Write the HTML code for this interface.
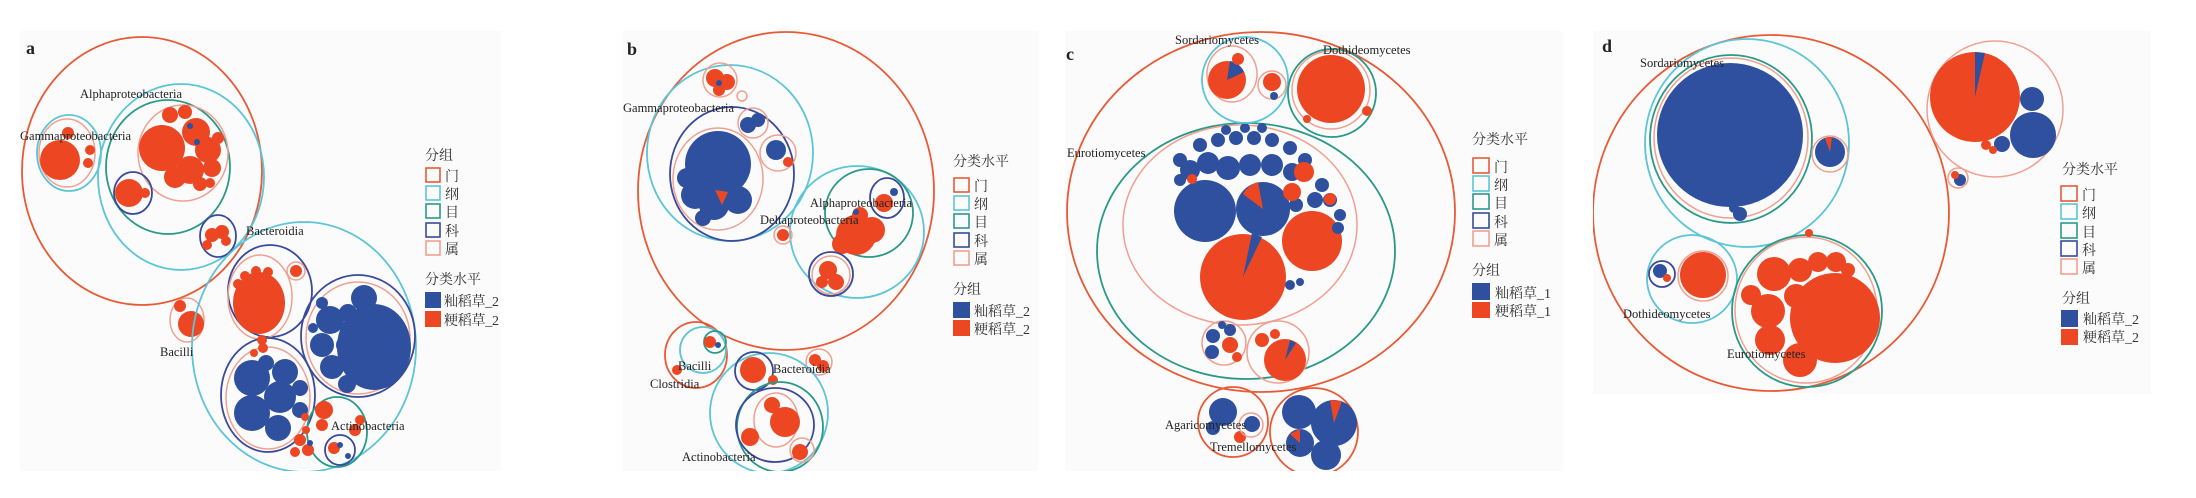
<!DOCTYPE html>
<html><head><meta charset="utf-8"><style>
html,body{margin:0;padding:0;background:#fff;}
svg{display:block;}
.l{font-family:"Liberation Serif","Noto Serif CJK SC",serif;font-size:12.5px;fill:#222;}
.t{font-family:"Liberation Serif",serif;font-size:18px;font-weight:bold;fill:#222;}
.g{font-family:"Liberation Serif","Noto Serif CJK SC","Noto Sans CJK SC",serif;font-size:14px;fill:#333;}
.R{fill:none;stroke:#e85a36;stroke-width:1.8}
.C{fill:none;stroke:#5cc5d8;stroke-width:1.8}
.G{fill:none;stroke:#2a9a88;stroke-width:1.8}
.N{fill:none;stroke:#3a4a9a;stroke-width:1.8}
.S{fill:none;stroke:#f0a090;stroke-width:1.5}
.b{fill:#2f509f}.r{fill:#ec4722}
</style></head><body>
<svg width="2196" height="498" viewBox="0 0 2196 498" xmlns="http://www.w3.org/2000/svg">
<defs>
<clipPath id="ca"><rect x="20" y="30" width="481" height="441"/></clipPath>
<clipPath id="cb"><rect x="623" y="30" width="415" height="441"/></clipPath>
<clipPath id="cc"><rect x="1065" y="30" width="498" height="441"/></clipPath>
<clipPath id="cd"><rect x="1593" y="30" width="558" height="364"/></clipPath>
</defs>
<rect x="20" y="31" width="481" height="440" fill="#fbfbfb"/>
<rect x="623" y="31" width="415" height="440" fill="#fbfbfb"/>
<rect x="1065" y="31" width="498" height="440" fill="#fbfbfb"/>
<rect x="1593" y="31" width="558" height="363" fill="#fbfbfb"/>

<!-- PANEL A -->
<g clip-path="url(#ca)">
<text class="t" x="26" y="54">a</text>
<ellipse class="R" cx="142" cy="171" rx="120" ry="134"/>
<ellipse class="C" cx="181" cy="177" rx="83" ry="93"/>
<ellipse class="G" cx="168" cy="167" rx="62" ry="67"/>
<ellipse class="S" cx="183" cy="153" rx="45" ry="48"/>
<circle class="r" cx="162" cy="148" r="23"/>
<circle class="r" cx="196" cy="132" r="14"/><circle class="r" cx="208" cy="150" r="13"/>
<circle class="r" cx="190" cy="170" r="14"/><circle class="r" cx="175" cy="177" r="11"/>
<circle class="r" cx="212" cy="168" r="9"/><circle class="r" cx="185" cy="112" r="7"/>
<circle class="r" cx="170" cy="115" r="8"/><circle class="r" cx="218" cy="138" r="6"/>
<circle class="r" cx="200" cy="184" r="7"/><circle class="r" cx="210" cy="183" r="5"/>
<circle class="b" cx="190" cy="126" r="3"/><circle class="b" cx="197" cy="142" r="3"/>
<ellipse class="N" cx="133" cy="193" rx="19" ry="21"/>
<circle class="r" cx="129" cy="193" r="14"/><circle class="r" cx="145" cy="193" r="5"/>
<ellipse class="C" cx="69" cy="153" rx="32" ry="38"/>
<ellipse class="S" cx="67" cy="153" rx="28" ry="34"/>
<circle class="r" cx="60" cy="160" r="20"/><circle class="r" cx="90" cy="150" r="5"/><circle class="r" cx="88" cy="163" r="5"/><circle class="r" cx="68" cy="133" r="6"/>
<ellipse class="N" cx="218" cy="236" rx="18" ry="21"/>
<circle class="r" cx="212" cy="235" r="7"/><circle class="r" cx="222" cy="232" r="7"/><circle class="r" cx="226" cy="241" r="5"/><circle class="r" cx="207" cy="245" r="5"/>
<ellipse class="S" cx="187" cy="320" rx="17" ry="22"/>
<circle class="r" cx="191" cy="324" r="13"/><circle class="r" cx="180" cy="306" r="6"/>
<ellipse class="C" cx="304" cy="347" rx="112" ry="125"/>
<ellipse class="N" cx="270" cy="291" rx="42" ry="46"/>
<ellipse class="S" cx="260" cy="297" rx="32" ry="42"/>
<ellipse class="r" cx="259" cy="303" rx="26" ry="31"/>
<circle class="r" cx="245" cy="276" r="5"/><circle class="r" cx="256" cy="271" r="5"/><circle class="r" cx="268" cy="272" r="5"/><circle class="r" cx="238" cy="284" r="5"/>
<circle class="S" cx="296" cy="271" r="9"/><circle class="r" cx="296" cy="271" r="6"/>
<ellipse class="N" cx="358" cy="336" rx="57" ry="61"/>
<ellipse class="S" cx="358" cy="338" rx="52" ry="56"/>
<ellipse class="b" cx="374" cy="347" rx="37" ry="43"/>
<circle class="b" cx="364" cy="298" r="13"/><circle class="b" cx="330" cy="320" r="14"/><circle class="b" cx="322" cy="345" r="12"/>
<circle class="b" cx="332" cy="367" r="12"/><circle class="b" cx="347" cy="384" r="9"/><circle class="b" cx="345" cy="345" r="9"/><circle class="b" cx="348" cy="313" r="9"/>
<circle class="b" cx="322" cy="303" r="6"/><circle class="b" cx="313" cy="328" r="5"/>
<ellipse class="N" cx="268" cy="395" rx="47" ry="57"/>
<ellipse class="S" cx="268" cy="398" rx="42" ry="51"/>
<circle class="b" cx="252" cy="378" r="18"/><circle class="b" cx="252" cy="413" r="18"/><circle class="b" cx="280" cy="397" r="16"/>
<circle class="b" cx="285" cy="372" r="13"/><circle class="b" cx="278" cy="428" r="13"/><circle class="b" cx="300" cy="388" r="8"/><circle class="b" cx="300" cy="410" r="8"/><circle class="b" cx="266" cy="363" r="8"/>
<circle class="r" cx="263" cy="348" r="5"/><circle class="r" cx="254" cy="353" r="4"/><circle class="r" cx="305" cy="417" r="4"/>
<circle class="r" cx="262" cy="340" r="5"/>
<ellipse class="G" cx="337" cy="432" rx="30" ry="35"/>
<circle class="r" cx="324" cy="410" r="9"/><circle class="r" cx="322" cy="425" r="6"/><circle class="r" cx="355" cy="430" r="6"/><circle class="r" cx="360" cy="420" r="5"/>
<circle class="N" cx="340" cy="450" r="15"/><circle class="r" cx="334" cy="448" r="6"/><circle class="b" cx="340" cy="445" r="3"/><circle class="b" cx="348" cy="456" r="3"/>
<circle class="r" cx="300" cy="440" r="6"/><circle class="r" cx="308" cy="450" r="6"/><circle class="r" cx="295" cy="452" r="5"/><circle class="r" cx="306" cy="430" r="4"/><circle class="b" cx="310" cy="443" r="3"/>
<text class="l" x="80" y="98">Alphaproteobacteria</text>
<text class="l" x="20" y="140">Gammaproteobacteria</text>
<text class="l" x="246" y="235">Bacteroidia</text>
<text class="l" x="160" y="356">Bacilli</text>
<text class="l" x="331" y="430">Actinobacteria</text>
<text class="g" x="425" y="160">分组</text>
<rect x="426" y="168" width="14" height="14" fill="none" stroke="#e85a36" stroke-width="1.6"/>
<rect x="426" y="186" width="14" height="14" fill="none" stroke="#5cc5d8" stroke-width="1.6"/>
<rect x="426" y="204" width="14" height="14" fill="none" stroke="#2a9a88" stroke-width="1.6"/>
<rect x="426" y="223" width="14" height="14" fill="none" stroke="#3a4a9a" stroke-width="1.6"/>
<rect x="426" y="241" width="14" height="14" fill="none" stroke="#f0a090" stroke-width="1.6"/>
<text class="g" x="445" y="181">门</text><text class="g" x="445" y="199">纲</text><text class="g" x="445" y="217">目</text><text class="g" x="445" y="236">科</text><text class="g" x="445" y="254">属</text>
<text class="g" x="425" y="284">分类水平</text>
<rect x="425" y="292" width="16" height="16" fill="#2f509f"/><rect x="425" y="311" width="16" height="16" fill="#ec4722"/>
<text class="g" x="444" y="306" textLength="55">籼稻草_2</text><text class="g" x="444" y="325" textLength="55">粳稻草_2</text>
</g>

<!-- PANEL B -->
<g clip-path="url(#cb)">
<text class="t" x="627" y="55">b</text>
<ellipse class="R" cx="786" cy="191" rx="148" ry="159"/>
<ellipse class="C" cx="730" cy="153" rx="83" ry="88"/>
<ellipse class="N" cx="732" cy="174" rx="62" ry="67"/>
<ellipse class="S" cx="718" cy="179" rx="45" ry="51"/>
<circle class="b" cx="718" cy="164" r="33"/>
<circle class="b" cx="695" cy="195" r="14"/><circle class="b" cx="714" cy="205" r="15"/><circle class="b" cx="738" cy="200" r="14"/><circle class="b" cx="687" cy="178" r="10"/><circle class="b" cx="703" cy="218" r="8"/>
<path d="M715 190 L728 192 L722 205 Z" class="r"/>
<circle class="S" cx="720" cy="80" r="17"/><circle class="r" cx="715" cy="78" r="9"/><circle class="r" cx="727" cy="82" r="8"/><circle class="r" cx="719" cy="90" r="6"/><circle class="b" cx="719" cy="83" r="3"/>
<circle class="S" cx="742" cy="96" r="5"/>
<circle class="S" cx="753" cy="123" r="15"/><circle class="b" cx="748" cy="125" r="8"/><circle class="b" cx="758" cy="120" r="7"/>
<circle class="S" cx="778" cy="153" r="18"/><circle class="b" cx="776" cy="150" r="10"/><circle class="r" cx="788" cy="162" r="5"/>
<ellipse class="C" cx="857" cy="232" rx="67" ry="66"/>
<circle class="G" cx="869" cy="213" r="44"/>
<ellipse class="N" cx="887" cy="198" rx="17" ry="20"/>
<circle class="r" cx="884" cy="203" r="9"/><circle class="b" cx="894" cy="192" r="4"/>
<circle class="r" cx="856" cy="235" r="20"/><circle class="r" cx="872" cy="230" r="13"/><circle class="r" cx="842" cy="244" r="10"/><circle class="r" cx="860" cy="215" r="8"/><circle class="b" cx="856" cy="212" r="3"/>
<circle class="N" cx="831" cy="274" r="22"/><circle class="S" cx="831" cy="275" r="19"/>
<circle class="r" cx="828" cy="270" r="9"/><circle class="r" cx="836" cy="282" r="8"/><circle class="r" cx="822" cy="282" r="6"/>
<circle class="S" cx="783" cy="235" r="9"/><circle class="r" cx="783" cy="235" r="6"/>
<ellipse class="R" cx="696" cy="355" rx="31" ry="33"/>
<circle class="C" cx="703" cy="350" r="23"/>
<circle class="G" cx="715" cy="342" r="11"/><circle class="r" cx="710" cy="342" r="6"/><circle class="b" cx="718" cy="345" r="3"/>
<circle class="r" cx="677" cy="370" r="5"/>
<circle class="S" cx="819" cy="362" r="13"/><circle class="r" cx="815" cy="360" r="6"/><circle class="r" cx="823" cy="366" r="6"/>
<ellipse class="C" cx="769" cy="413" rx="59" ry="60"/>
<circle class="N" cx="754" cy="371" r="19"/><circle class="r" cx="753" cy="370" r="13"/><circle class="r" cx="773" cy="380" r="5"/>
<ellipse class="G" cx="780" cy="427" rx="43" ry="45"/>
<ellipse class="N" cx="775" cy="425" rx="39" ry="37"/>
<ellipse class="S" cx="776" cy="420" rx="22" ry="27"/>
<circle class="r" cx="785" cy="422" r="15"/><circle class="r" cx="772" cy="405" r="8"/>
<circle class="r" cx="750" cy="437" r="9"/><circle class="S" cx="802" cy="450" r="12"/><circle class="r" cx="800" cy="452" r="8"/>
<text class="l" x="623" y="112">Gammaproteobacteria</text>
<text class="l" x="810" y="207">Alphaproteobacteria</text>
<text class="l" x="760" y="224">Deltaproteobacteria</text>
<text class="l" x="678" y="370">Bacilli</text>
<text class="l" x="650" y="388">Clostridia</text>
<text class="l" x="773" y="373">Bacteroidia</text>
<text class="l" x="682" y="461">Actinobacteria</text>
<text class="g" x="953" y="166">分类水平</text>
<rect x="954" y="178" width="15" height="14" fill="none" stroke="#e85a36" stroke-width="1.6"/>
<rect x="954" y="196" width="15" height="14" fill="none" stroke="#5cc5d8" stroke-width="1.6"/>
<rect x="954" y="214" width="15" height="14" fill="none" stroke="#2a9a88" stroke-width="1.6"/>
<rect x="954" y="233" width="15" height="14" fill="none" stroke="#3a4a9a" stroke-width="1.6"/>
<rect x="954" y="251" width="15" height="14" fill="none" stroke="#f0a090" stroke-width="1.6"/>
<text class="g" x="974" y="191">门</text><text class="g" x="974" y="209">纲</text><text class="g" x="974" y="227">目</text><text class="g" x="974" y="246">科</text><text class="g" x="974" y="264">属</text>
<text class="g" x="953" y="294">分组</text>
<rect x="953" y="302" width="17" height="16" fill="#2f509f"/><rect x="953" y="320" width="17" height="16" fill="#ec4722"/>
<text class="g" x="974" y="316">籼稻草_2</text><text class="g" x="974" y="334">粳稻草_2</text>
</g>

<!-- PANEL C -->
<g clip-path="url(#cc)">
<text class="t" x="1066" y="60">c</text>
<ellipse class="R" cx="1261" cy="212" rx="194" ry="180"/>
<ellipse class="G" cx="1246" cy="251" rx="149" ry="128"/>
<ellipse class="S" cx="1240" cy="225" rx="117" ry="100"/>
<circle class="b" cx="1205" cy="211" r="31"/>
<circle class="b" cx="1263" cy="209" r="27"/>
<path d="M1263 209 L1243 194 A27 27 0 0 1 1258 182 Z" class="r"/>
<circle class="r" cx="1243" cy="277" r="43"/>
<path d="M1243 277 L1252 233 L1262 237 Z" class="b"/>
<circle class="r" cx="1312" cy="241" r="30"/>
<g class="b">
<circle cx="1190" cy="170" r="10"/><circle cx="1208" cy="163" r="11"/><circle cx="1228" cy="168" r="12"/><circle cx="1250" cy="165" r="11"/><circle cx="1272" cy="165" r="11"/><circle cx="1292" cy="172" r="9"/>
<circle cx="1200" cy="145" r="7"/><circle cx="1218" cy="140" r="7"/><circle cx="1236" cy="138" r="7"/><circle cx="1254" cy="138" r="7"/><circle cx="1272" cy="140" r="7"/><circle cx="1290" cy="148" r="7"/>
<circle cx="1226" cy="130" r="5"/><circle cx="1245" cy="128" r="5"/><circle cx="1262" cy="128" r="5"/><circle cx="1180" cy="160" r="7"/><circle cx="1305" cy="160" r="7"/>
<circle cx="1322" cy="185" r="7"/><circle cx="1330" cy="200" r="7"/><circle cx="1340" cy="215" r="6"/><circle cx="1338" cy="228" r="6"/><circle cx="1315" cy="200" r="8"/>
<circle cx="1180" cy="180" r="6"/><circle cx="1296" cy="205" r="7"/><circle cx="1290" cy="285" r="5"/><circle cx="1300" cy="282" r="4"/>
</g>
<circle class="r" cx="1304" cy="172" r="10"/><circle class="r" cx="1292" cy="192" r="9"/><circle class="r" cx="1330" cy="199" r="6"/><circle class="r" cx="1192" cy="179" r="5"/>
<circle class="C" cx="1245" cy="80" r="43"/>
<ellipse class="S" cx="1232" cy="74" rx="25" ry="28"/>
<circle class="r" cx="1227" cy="80" r="19"/>
<path d="M1227 80 L1230 61 A19 19 0 0 1 1244 72 Z" class="b"/>
<circle class="r" cx="1238" cy="59" r="6"/>
<circle class="S" cx="1272" cy="85" r="14"/><circle class="r" cx="1272" cy="82" r="9"/><circle class="b" cx="1274" cy="96" r="4"/>
<circle class="G" cx="1332" cy="93" r="44"/>
<circle class="S" cx="1331" cy="90" r="39"/>
<circle class="r" cx="1331" cy="89" r="34"/>
<circle class="r" cx="1367" cy="111" r="5"/><circle class="r" cx="1307" cy="119" r="4"/>
<circle class="S" cx="1224" cy="343" r="22"/>
<circle class="b" cx="1213" cy="336" r="7"/><circle class="b" cx="1212" cy="352" r="7"/><circle class="r" cx="1230" cy="345" r="8"/><circle class="b" cx="1230" cy="330" r="6"/><circle class="r" cx="1237" cy="357" r="5"/><circle class="b" cx="1222" cy="325" r="4"/>
<circle class="S" cx="1278" cy="352" r="31"/>
<circle class="r" cx="1285" cy="360" r="21"/><circle class="r" cx="1262" cy="340" r="7"/><circle class="r" cx="1275" cy="334" r="5"/>
<path d="M1285 360 L1290 340 L1296 343 Z" class="b"/>
<circle class="R" cx="1233" cy="422" r="35"/>
<circle class="b" cx="1223" cy="412" r="14"/><circle class="b" cx="1252" cy="424" r="8"/><circle class="r" cx="1240" cy="437" r="6"/><circle class="S" cx="1251" cy="425" r="12"/><circle class="b" cx="1213" cy="428" r="7"/>
<circle class="R" cx="1314" cy="432" r="44"/>
<circle class="b" cx="1299" cy="412" r="17"/><circle class="b" cx="1334" cy="423" r="23"/><circle class="b" cx="1300" cy="443" r="14"/><circle class="b" cx="1326" cy="455" r="15"/>
<path d="M1334 423 L1330 400 L1342 401 Z" class="r"/><path d="M1300 443 L1290 434 L1300 429 Z" class="r"/>
<text class="l" x="1175" y="44">Sordariomycetes</text>
<text class="l" x="1323" y="54">Dothideomycetes</text>
<text class="l" x="1067" y="157">Eurotiomycetes</text>
<text class="l" x="1165" y="429">Agaricomycetes</text>
<text class="l" x="1210" y="451">Tremellomycetes</text>
<text class="g" x="1472" y="144">分类水平</text>
<rect x="1473" y="158" width="16" height="15" fill="none" stroke="#e85a36" stroke-width="1.6"/>
<rect x="1473" y="176" width="16" height="15" fill="none" stroke="#5cc5d8" stroke-width="1.6"/>
<rect x="1473" y="194" width="16" height="15" fill="none" stroke="#2a9a88" stroke-width="1.6"/>
<rect x="1473" y="213" width="16" height="15" fill="none" stroke="#3a4a9a" stroke-width="1.6"/>
<rect x="1473" y="231" width="16" height="15" fill="none" stroke="#f0a090" stroke-width="1.6"/>
<text class="g" x="1494" y="172">门</text><text class="g" x="1494" y="190">纲</text><text class="g" x="1494" y="208">目</text><text class="g" x="1494" y="227">科</text><text class="g" x="1494" y="245">属</text>
<text class="g" x="1472" y="275">分组</text>
<rect x="1472" y="283" width="18" height="17" fill="#2f509f"/><rect x="1472" y="302" width="18" height="16" fill="#ec4722"/>
<text class="g" x="1495" y="298">籼稻草_1</text><text class="g" x="1495" y="316">粳稻草_1</text>
</g>

<!-- PANEL D -->
<g clip-path="url(#cd)">
<text class="t" x="1602" y="52">d</text>
<ellipse class="R" cx="1771" cy="213" rx="178" ry="178"/>
<ellipse class="C" cx="1747" cy="143" rx="102" ry="104"/>
<ellipse class="G" cx="1731" cy="139" rx="81" ry="84"/>
<ellipse class="S" cx="1731" cy="138" rx="77" ry="80"/>
<ellipse class="b" cx="1730" cy="135" rx="73" ry="72"/>
<circle class="b" cx="1740" cy="214" r="7"/><circle class="b" cx="1734" cy="208" r="5"/>
<circle class="S" cx="1830" cy="154" r="18"/><circle class="b" cx="1830" cy="152" r="15"/>
<path d="M1830 152 L1825 138 L1832 137 Z" class="r"/>
<circle class="S" cx="1995" cy="109" r="68"/>
<circle class="r" cx="1975" cy="97" r="45"/>
<path d="M1975 97 L1975 52 L1985 53 Z" class="b"/>
<circle class="b" cx="2033" cy="135" r="23"/><circle class="b" cx="2032" cy="99" r="12"/><circle class="b" cx="2002" cy="144" r="8"/>
<circle class="r" cx="1986" cy="145" r="5"/><circle class="r" cx="1993" cy="150" r="4"/>
<circle class="S" cx="1958" cy="178" r="10"/><circle class="b" cx="1960" cy="180" r="6"/><circle class="r" cx="1955" cy="175" r="4"/>
<ellipse class="C" cx="1692" cy="279" rx="45" ry="44"/>
<circle class="N" cx="1662" cy="274" r="13"/><circle class="b" cx="1660" cy="271" r="7"/><circle class="r" cx="1667" cy="278" r="4"/>
<circle class="S" cx="1703" cy="276" r="25"/><circle class="r" cx="1703" cy="275" r="23"/>
<ellipse class="G" cx="1807" cy="311" rx="75" ry="76"/>
<ellipse class="S" cx="1806" cy="310" rx="71" ry="73"/>
<circle class="r" cx="1835" cy="318" r="45"/>
<circle class="r" cx="1774" cy="274" r="17"/><circle class="r" cx="1768" cy="311" r="17"/><circle class="r" cx="1770" cy="340" r="15"/>
<circle class="r" cx="1800" cy="270" r="12"/><circle class="r" cx="1818" cy="262" r="10"/><circle class="r" cx="1836" cy="262" r="10"/>
<circle class="r" cx="1751" cy="295" r="10"/><circle class="r" cx="1796" cy="296" r="12"/><circle class="r" cx="1800" cy="360" r="17"/><circle class="r" cx="1848" cy="270" r="7"/>
<circle class="r" cx="1809" cy="233" r="4"/>
<text class="l" x="1640" y="67">Sordariomycetes</text>
<text class="l" x="1623" y="318">Dothideomycetes</text>
<text class="l" x="1727" y="358">Eurotiomycetes</text>
<text class="g" x="2062" y="174">分类水平</text>
<rect x="2061" y="186" width="16" height="15" fill="none" stroke="#e85a36" stroke-width="1.6"/>
<rect x="2061" y="204" width="16" height="15" fill="none" stroke="#5cc5d8" stroke-width="1.6"/>
<rect x="2061" y="223" width="16" height="15" fill="none" stroke="#2a9a88" stroke-width="1.6"/>
<rect x="2061" y="241" width="16" height="15" fill="none" stroke="#3a4a9a" stroke-width="1.6"/>
<rect x="2061" y="259" width="16" height="15" fill="none" stroke="#f0a090" stroke-width="1.6"/>
<text class="g" x="2082" y="200">门</text><text class="g" x="2082" y="218">纲</text><text class="g" x="2082" y="237">目</text><text class="g" x="2082" y="255">科</text><text class="g" x="2082" y="273">属</text>
<text class="g" x="2062" y="303">分组</text>
<rect x="2061" y="310" width="17" height="17" fill="#2f509f"/><rect x="2061" y="329" width="17" height="16" fill="#ec4722"/>
<text class="g" x="2083" y="324">籼稻草_2</text><text class="g" x="2083" y="342">粳稻草_2</text>
</g>
</svg>
</body></html>
